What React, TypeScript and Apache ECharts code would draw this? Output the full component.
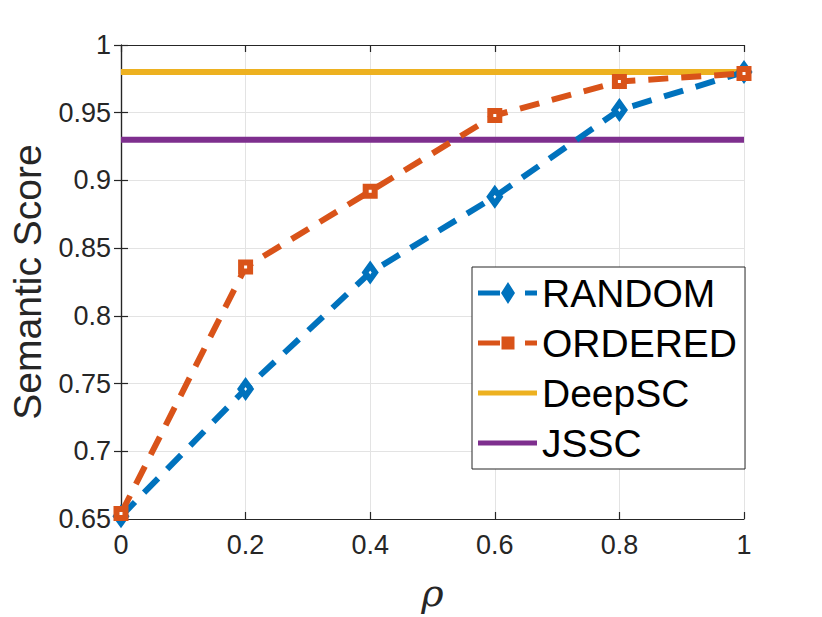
import React, { useEffect, useRef } from "react";
import * as echarts from "echarts";

const rhoValues = [0, 0.2, 0.4, 0.6, 0.8, 1];
const randomScores = [0.652, 0.746, 0.832, 0.888, 0.952, 0.98];
const orderedScores = [0.654, 0.836, 0.892, 0.948, 0.973, 0.979];
const deepscScore = 0.98;
const jsscScore = 0.93;
const xRange = [0, 1];

const FONT = "Liberation Sans, Arial, Helvetica, sans-serif";
const AX = "#262626";
const C_RANDOM = "#0072BD";
const C_ORDERED = "#D95319";
const C_DEEPSC = "#EDB120";
const C_JSSC = "#7E2F8E";

const BAR_ICON = "path://M0,8.5 L59,8.5 L59,13.5 L0,13.5 Z M0,0 L0.01,0 L0.01,0.01 Z M0,22 L0.01,22 L0.01,21.99 Z";
const RANDOM_ICON =
  "path://M0,8.5 L22,8.5 L22,13.5 L0,13.5 Z M30,0 L37,11 L30,22 L23,11 Z M47,8.5 L59,8.5 L59,13.5 L47,13.5 Z";
const ORDERED_ICON =
  "path://M0,0 L0.01,0 L0.01,0.01 Z M0,8.5 L22,8.5 L22,13.5 L0,13.5 Z M23.5,4.5 L36.5,4.5 L36.5,17.5 L23.5,17.5 Z M47,8.5 L59,8.5 L59,13.5 L47,13.5 Z M0,22 L0.01,22 L0.01,21.99 Z";

export default function App() {
  const ref = useRef<HTMLDivElement>(null);
  useEffect(() => {
    if (!ref.current) return;
    const chart = echarts.init(ref.current, undefined, { renderer: "svg" });
    const pairs = (ys: number[]) => rhoValues.map((x, i) => [x, ys[i]]);
    const flat = (v: number) => xRange.map((x) => [x, v]);
    const fmt = (v: number) => String(parseFloat(v.toFixed(2)));
    const grid = { left: 117, right: 78, top: 45, bottom: 96 };
    chart.setOption({
      animation: false,
      backgroundColor: "#fff",
      textStyle: { fontFamily: FONT },
      grid,
      xAxis: [
        {
          type: "value",
          min: 0,
          max: 1,
          interval: 0.2,
          name: "ρ",
          nameLocation: "middle",
          nameGap: 55,
          nameTextStyle: { fontSize: 38, fontStyle: "italic", color: AX, fontFamily: "DejaVu Serif, serif" },
          axisLine: { show: true, onZero: false, lineStyle: { color: AX, width: 1.2 } },
          axisTick: { show: true, inside: true, length: 7, lineStyle: { color: AX, width: 1.2 } },
          axisLabel: { fontSize: 27, color: AX, margin: 12, formatter: fmt, fontFamily: FONT },
          splitLine: { show: true, lineStyle: { color: "#e3e3e3", width: 1 } },
        },
        {
          type: "value",
          position: "top",
          min: 0,
          max: 1,
          interval: 0.2,
          axisLine: { show: true, lineStyle: { color: AX, width: 1.2 } },
          axisTick: { show: true, inside: true, length: 7, lineStyle: { color: AX, width: 1.2 } },
          axisLabel: { show: false },
          splitLine: { show: false },
        },
      ],
      yAxis: [
        {
          type: "value",
          min: 0.65,
          max: 1,
          interval: 0.05,
          name: "Semantic Score",
          nameLocation: "middle",
          nameGap: 74,
          nameTextStyle: { fontSize: 39, color: AX, fontFamily: FONT },
          axisLine: { show: true, onZero: false, lineStyle: { color: AX, width: 1.2 } },
          axisTick: { show: true, inside: true, length: 7, lineStyle: { color: AX, width: 1.2 } },
          axisLabel: { fontSize: 27, color: AX, margin: 10, formatter: fmt, fontFamily: FONT },
          splitLine: { show: true, lineStyle: { color: "#e3e3e3", width: 1 } },
        },
        {
          type: "value",
          position: "right",
          min: 0.65,
          max: 1,
          interval: 0.05,
          axisLine: { show: true, lineStyle: { color: AX, width: 1.2 } },
          axisTick: { show: true, inside: true, length: 7, lineStyle: { color: AX, width: 1.2 } },
          axisLabel: { show: false },
          splitLine: { show: false },
        },
      ],
      legend: {
        orient: "vertical",
        left: 472,
        top: 267,
        padding: [4, 8, 4, 6],
        itemGap: 6,
        itemWidth: 59,
        itemHeight: 22,
        backgroundColor: "#fff",
        borderColor: AX,
        borderWidth: 1,
        borderRadius: 0,
        textStyle: { fontSize: 39, color: "#000", lineHeight: 44, fontFamily: FONT },
        data: [
          { name: "RANDOM", icon: RANDOM_ICON, itemStyle: { color: C_RANDOM, borderWidth: 0 } },
          { name: "ORDERED", icon: ORDERED_ICON, itemStyle: { color: C_ORDERED, borderWidth: 0 } },
          { name: "DeepSC", icon: BAR_ICON, itemStyle: { color: C_DEEPSC, borderWidth: 0 } },
          { name: "JSSC", icon: BAR_ICON, itemStyle: { color: C_JSSC, borderWidth: 0 } },
        ],
      },
      series: [
        {
          name: "DeepSC",
          type: "line",
          data: flat(deepscScore),
          showSymbol: false,
          symbol: "none",
          color: C_DEEPSC,
          lineStyle: { color: C_DEEPSC, width: 6 },
          z: 2,
        },
        {
          name: "JSSC",
          type: "line",
          data: flat(jsscScore),
          showSymbol: false,
          symbol: "none",
          color: C_JSSC,
          lineStyle: { color: C_JSSC, width: 6 },
          z: 2,
        },
        {
          name: "RANDOM",
          type: "line",
          data: pairs(randomScores),
          symbol: "diamond",
          symbolSize: [10, 14],
          color: C_RANDOM,
          itemStyle: { color: "#fff", borderColor: C_RANDOM, borderWidth: 6 },
          lineStyle: { color: C_RANDOM, width: 6, type: [20, 13] },
          z: 3,
        },
        {
          name: "ORDERED",
          type: "line",
          data: pairs(orderedScores),
          symbol: "rect",
          symbolSize: 9,
          color: C_ORDERED,
          itemStyle: { color: "#fff", borderColor: C_ORDERED, borderWidth: 6 },
          lineStyle: { color: C_ORDERED, width: 6, type: [20, 13] },
          z: 4,
        },
      ],
    });
    return () => chart.dispose();
  }, []);
  return (
    <div style={{ position: "absolute", left: 0, top: 0, width: 822, height: 617, background: "#fff" }}>
      <div ref={ref} style={{ width: 822, height: 617 }} />
    </div>
  );
}
